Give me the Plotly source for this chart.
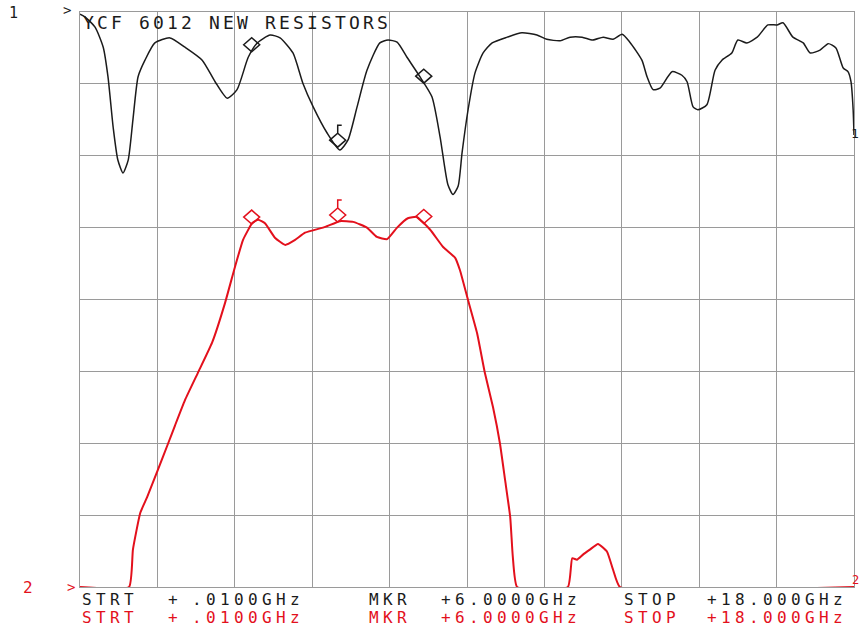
import numpy as np
import plotly.graph_objects as go

# Sweep: 0.01 GHz to 18 GHz, 10 horizontal divisions, 8 vertical divisions
f_start, f_stop = 0.01, 18.0
n_div_x, n_div_y = 10, 8

# Channel 1 (reflection) trace: frequency in GHz, level in graticule divisions
ch1_freq = [0.01, 0.13, 0.36, 0.55, 0.66, 0.78, 0.89, 1.01, 1.13, 1.24, 1.36, 1.52, 1.75,
            2.10, 2.45, 2.85, 3.15, 3.43, 3.66, 3.92, 4.13, 4.43, 4.66, 4.96, 5.19, 5.43,
            5.75, 6.05, 6.24, 6.45, 6.68, 6.98, 7.17, 7.38, 7.61, 7.91, 8.19, 8.38, 8.56,
            8.68, 8.80, 8.89, 9.03, 9.19, 9.38, 9.59, 9.94, 10.28, 10.63, 10.86, 11.17,
            11.40, 11.68, 11.93, 12.17, 12.40, 12.61, 12.79, 13.07, 13.19, 13.33, 13.49,
            13.77, 14.00, 14.12, 14.26, 14.37, 14.58, 14.77, 14.93, 15.16, 15.30, 15.51,
            15.75, 16.00, 16.21, 16.35, 16.58, 16.82, 16.98, 17.21, 17.40, 17.58, 17.75,
            17.86, 17.93, 17.98, 18.00]
ch1_level = [7.97, 7.93, 7.79, 7.51, 7.10, 6.40, 5.94, 5.76, 5.94, 6.50, 7.10, 7.33, 7.57,
             7.64, 7.51, 7.33, 7.03, 6.80, 6.92, 7.37, 7.57, 7.68, 7.64, 7.43, 7.01, 6.68,
             6.32, 6.08, 6.22, 6.68, 7.19, 7.57, 7.61, 7.58, 7.37, 7.10, 6.82, 6.26, 5.60,
             5.46, 5.58, 6.04, 6.64, 7.15, 7.43, 7.57, 7.65, 7.71, 7.68, 7.62, 7.60,
             7.65, 7.65, 7.61, 7.65, 7.62, 7.69, 7.58, 7.33, 7.10, 6.92, 6.94,
             7.17, 7.12, 7.03, 6.68, 6.64, 6.71, 7.19, 7.33, 7.43, 7.61, 7.57,
             7.65, 7.82, 7.82, 7.85, 7.65, 7.57, 7.43, 7.47, 7.56, 7.50, 7.22,
             7.17, 7.03, 6.64, 6.29]

# Channel 2 (transmission) trace
ch2_freq = [0.01, 1.15, 1.24, 1.41, 1.57, 1.82, 2.06, 2.22, 2.45, 2.75, 3.08, 3.38, 3.61,
            3.80, 4.01, 4.15, 4.31, 4.54, 4.78, 5.01, 5.24, 5.71, 6.05, 6.36, 6.68, 6.91,
            7.15, 7.38, 7.63, 7.84, 8.15, 8.45, 8.73, 8.84, 9.03, 9.24, 9.42, 9.61, 9.77,
            9.89, 10.01, 10.07, 10.17, 11.35, 11.45, 11.56, 11.70, 11.86, 12.05, 12.26,
            12.40, 12.56, 18.00]
ch2_level = [0.00, 0.00, 0.52, 1.03, 1.25, 1.63, 2.00, 2.25, 2.60, 2.98, 3.40, 3.95, 4.45,
             4.83, 5.06, 5.11, 5.06, 4.86, 4.76, 4.83, 4.93, 5.01, 5.09, 5.08, 5.00, 4.87,
             4.84, 5.00, 5.13, 5.15, 4.97, 4.73, 4.58, 4.41, 3.99, 3.53, 2.98, 2.50, 2.00,
             1.49, 0.97, 0.42, 0.00, 0.00, 0.40, 0.38, 0.45, 0.52, 0.60, 0.49,
             0.24, 0.00, 0.00]

# Markers (GHz); the second one is the active marker
marker_freq = [4.0, 6.0, 8.0]
active_marker = 1

title_text = "YCF 6012 NEW RESISTORS"
ch1_row = [("STRT", 81), ("+", 167), (".0100GHz", 191), ("MKR", 368),
           ("+6.0000GHz", 440), ("STOP", 623), ("+18.000GHz", 706)]
ch2_row = ch1_row

BLACK = "#1b1b1b"
RED = "#e3101c"
GRID = "#9a9a9a"

W, H = 861, 631
ML, MR, MT, MB = 80, 7, 12, 44
PW, PH = W - ML - MR, H - MT - MB

fig = go.Figure()
fig.add_trace(go.Scatter(x=ch1_freq, y=ch1_level, mode="lines",
                         line=dict(color=BLACK, width=1.5, shape="spline", smoothing=0.6),
                         hoverinfo="skip", showlegend=False))
fig.add_trace(go.Scatter(x=ch2_freq, y=ch2_level, mode="lines",
                         line=dict(color=RED, width=2, shape="spline", smoothing=0.4),
                         hoverinfo="skip", showlegend=False))

# Marker diamonds sit on the trace (bottom vertex on the point), active one carries a flag
shapes = []
for freqs, levels, color in ((ch1_freq, ch1_level, BLACK), (ch2_freq, ch2_level, RED)):
    for i, mf in enumerate(marker_freq):
        lvl = float(np.interp(mf, freqs, levels))
        path = "M -8,7 L 0,14 L 8,7 L 0,0 Z"
        if i == active_marker:
            path += " M 0,14 L 0,22 L 4,22"
        shapes.append(dict(type="path", xref="x", yref="y", xsizemode="pixel",
                           ysizemode="pixel", xanchor=mf, yanchor=lvl, path=path,
                           line=dict(color=color, width=1.5)))

annotations = []


def px_to_paper(x, y):
    return (x - ML) / PW, (MT + PH - y) / PH


def add_text(s, x, y, color, size, advance=None, anchor="center"):
    # plotter lettering: fixed character pitch
    if advance is None:
        px, py = px_to_paper(x, y)
        annotations.append(dict(text=s, x=px, y=py, xref="paper", yref="paper",
                                xanchor=anchor, yanchor="middle", showarrow=False,
                                font=dict(family="DejaVu Sans Mono", size=size, color=color)))
        return
    for i, ch in enumerate(s):
        if ch == " ":
            continue
        px, py = px_to_paper(x + 5.5 + i * advance, y)
        annotations.append(dict(text=ch, x=px, y=py, xref="paper", yref="paper",
                                xanchor="center", yanchor="middle", showarrow=False,
                                font=dict(family="DejaVu Sans Mono", size=size, color=color)))


add_text(title_text, 83, 23, BLACK, 18, advance=14)
for seg, x0 in ch1_row:
    add_text(seg, x0, 599, BLACK, 16, advance=14)
for seg, x0 in ch2_row:
    add_text(seg, x0, 617, RED, 16, advance=14)

add_text("1", 13, 13, BLACK, 15)
add_text(">", 67, 10, BLACK, 14)
add_text("2", 28, 587, RED, 16)
add_text(">", 71, 587, RED, 14)
add_text("1", 861, 133, BLACK, 13, anchor="right")
add_text("2", 861, 580, RED, 12, anchor="right")

axis_common = dict(showticklabels=False, ticks="", showgrid=True, gridcolor=GRID,
                   gridwidth=1, zeroline=False, showline=True, mirror=True,
                   linecolor=GRID, linewidth=1, fixedrange=True)
fig.update_xaxes(range=[f_start, f_stop], tick0=f_start,
                 dtick=(f_stop - f_start) / n_div_x, **axis_common)
fig.update_yaxes(range=[0, n_div_y], tick0=0, dtick=1, **axis_common)

fig.update_layout(width=W, height=H, margin=dict(l=ML, r=MR, t=MT, b=MB),
                  paper_bgcolor="white", plot_bgcolor="white",
                  shapes=shapes, annotations=annotations, showlegend=False)

fig.write_html("out.html")
